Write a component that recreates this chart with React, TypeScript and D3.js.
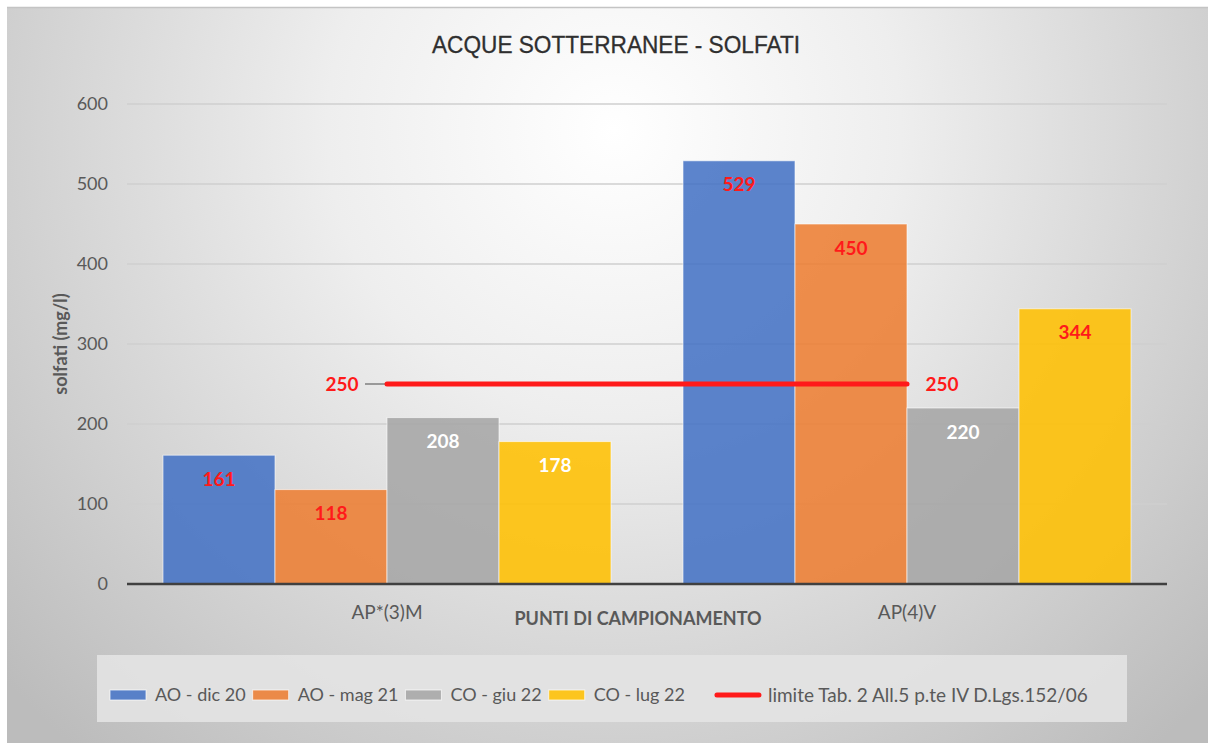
import React, { useEffect, useRef } from "react";
import * as d3 from "d3";

const categories = ["AP*(3)M", "AP(4)V"];
const seriesNames = ["AO - dic 20", "AO - mag 21", "CO - giu 22", "CO - lug 22"];
const valuesDic20 = [161, 529];
const valuesMag21 = [118, 450];
const valuesGiu22 = [208, 220];
const valuesLug22 = [178, 344];
const limitValue = 250;
const limitName = "limite Tab. 2 All.5 p.te IV D.Lgs.152/06";
const yTicks = [0, 100, 200, 300, 400, 500, 600];
const seriesColors = ["#4472C4", "#ED7D31", "#A5A5A5", "#FFC000"];
const labelColorsDic20 = ["#ff1a1a", "#ff1a1a"];
const labelColorsMag21 = ["#ff1a1a", "#ff1a1a"];
const labelColorsGiu22 = ["#ffffff", "#ffffff"];
const labelColorsLug22 = ["#ffffff", "#ff1a1a"];

const W = 1208;
const H = 745;
const FONT = "Lato, 'Open Sans', sans-serif";

export default function App() {
  const ref = useRef<SVGSVGElement>(null);

  useEffect(() => {
    const svg = d3.select(ref.current);
    svg.selectAll("*").remove();

    const seriesValues = [valuesDic20, valuesMag21, valuesGiu22, valuesLug22];
    const labelColors = [labelColorsDic20, labelColorsMag21, labelColorsGiu22, labelColorsLug22];

    const defs = svg.append("defs");
    const grad = defs
      .append("radialGradient")
      .attr("id", "bg")
      .attr("gradientUnits", "userSpaceOnUse")
      .attr("cx", 614)
      .attr("cy", 130)
      .attr("r", 820);
    grad.append("stop").attr("offset", 0).attr("stop-color", "#ffffff");
    grad.append("stop").attr("offset", 0.35).attr("stop-color", "#eeeeee");
    grad.append("stop").attr("offset", 1).attr("stop-color", "#bcbcbc");

    svg.append("rect").attr("x", 0).attr("y", 0).attr("width", W).attr("height", H).attr("fill", "#ffffff");
    svg.append("rect").attr("x", 7).attr("y", 7).attr("width", W - 7).attr("height", H - 9).attr("fill", "url(#bg)");
    svg.append("line").attr("x1", 7).attr("x2", W).attr("y1", 7.5).attr("y2", 7.5).attr("stroke", "#c4c4c4").attr("stroke-width", 1.5);

    const left = 127, right = 1167, top = 104, bottom = 584;
    const x = d3.scaleBand<string>().domain(categories).range([left, right]).paddingInner(0).paddingOuter(0);
    const xs = d3.scaleBand<string>().domain(seriesNames).range([0, x.bandwidth()]).paddingInner(0).paddingOuter(0.3214);
    const y = d3.scaleLinear().domain([0, 600]).range([bottom, top]);

    // title
    svg.append("text")
      .attr("x", 616).attr("y", 53)
      .attr("text-anchor", "middle")
      .attr("font-family", "'Liberation Sans Narrow', 'Liberation Sans', sans-serif")
      .attr("font-size", 23)
      .attr("fill", "#2f2f2f")
      .attr("stroke", "#2f2f2f").attr("stroke-width", 0.3)
      .attr("textLength", 368)
      .attr("lengthAdjust", "spacingAndGlyphs")
      .text("ACQUE SOTTERRANEE - SOLFATI");

    // gridlines
    svg.append("g").selectAll("line")
      .data(yTicks.filter((t) => t !== 0))
      .join("line")
      .attr("x1", left).attr("x2", right)
      .attr("y1", (d) => y(d)).attr("y2", (d) => y(d))
      .attr("stroke", "#cfcfcf").attr("stroke-width", 1.5);

    // y tick labels
    svg.append("g").selectAll("text")
      .data(yTicks)
      .join("text")
      .attr("x", 108).attr("y", (d) => y(d))
      .attr("dy", "0.35em")
      .attr("text-anchor", "end")
      .attr("font-family", FONT).attr("font-size", 18)
      .attr("fill", "#595959")
      .text((d) => d);

    // bars
    seriesNames.forEach((s, si) => {
      const g = svg.append("g");
      g.selectAll("rect")
        .data(categories.map((c, ci) => ({ c, v: seriesValues[si][ci] })))
        .join("rect")
        .attr("x", (d) => (x(d.c) as number) + (xs(s) as number))
        .attr("y", (d) => y(d.v))
        .attr("width", xs.bandwidth())
        .attr("height", (d) => y(0) - y(d.v))
        .attr("fill", seriesColors[si])
        .attr("fill-opacity", 0.87)
        .attr("stroke", "#ffffff")
        .attr("stroke-opacity", 0.6)
        .attr("stroke-width", 1);
    });

    // axis line
    svg.append("line").attr("x1", left).attr("x2", right).attr("y1", y(0)).attr("y2", y(0))
      .attr("stroke", "#404040").attr("stroke-width", 2.5);

    // data labels
    seriesNames.forEach((s, si) => {
      svg.append("g").selectAll("text")
        .data(categories.map((c, ci) => ({ c, ci, v: seriesValues[si][ci] })))
        .join("text")
        .attr("x", (d) => (x(d.c) as number) + (xs(s) as number) + xs.bandwidth() / 2)
        .attr("y", (d) => y(d.v) + 24)
        .attr("dy", "0.35em")
        .attr("text-anchor", "middle")
        .attr("font-family", FONT).attr("font-size", 19).attr("font-weight", "bold")
        .attr("fill", (d) => labelColors[si][d.ci])
        .text((d) => d.v);
    });

    // limit line
    const cx = categories.map((c) => (x(c) as number) + x.bandwidth() / 2);
    const ly = y(limitValue);
    svg.append("line").attr("x1", cx[0] - 22).attr("x2", cx[0]).attr("y1", ly).attr("y2", ly)
      .attr("stroke", "#7f7f7f").attr("stroke-width", 1.5);
    svg.append("line").attr("x1", cx[0]).attr("x2", cx[1]).attr("y1", ly).attr("y2", ly)
      .attr("stroke", "#ff1a1a").attr("stroke-width", 5).attr("stroke-linecap", "round");
    svg.append("text").attr("x", cx[0] - 45).attr("y", ly).attr("dy", "0.35em")
      .attr("text-anchor", "middle").attr("font-family", FONT).attr("font-size", 19).attr("font-weight", "bold")
      .attr("fill", "#ff1a1a").text(limitValue);
    svg.append("text").attr("x", cx[1] + 35).attr("y", ly).attr("dy", "0.35em")
      .attr("text-anchor", "middle").attr("font-family", FONT).attr("font-size", 19).attr("font-weight", "bold")
      .attr("fill", "#ff1a1a").text(limitValue);

    // category labels
    svg.append("g").selectAll("text")
      .data(categories)
      .join("text")
      .attr("x", (d) => (x(d) as number) + x.bandwidth() / 2)
      .attr("y", 612).attr("dy", "0.35em")
      .attr("text-anchor", "middle")
      .attr("font-family", FONT).attr("font-size", 19).attr("fill", "#595959")
      .text((d) => d);

    // axis titles
    svg.append("text").attr("x", 638).attr("y", 619).attr("dy", "0.35em")
      .attr("text-anchor", "middle").attr("font-family", FONT).attr("font-size", 18).attr("font-weight", "bold")
      .attr("fill", "#595959").text("PUNTI DI CAMPIONAMENTO");
    svg.append("text")
      .attr("transform", `translate(61,${(top + bottom) / 2}) rotate(-90)`)
      .attr("dy", "0.35em")
      .attr("text-anchor", "middle").attr("font-family", FONT).attr("font-size", 18).attr("font-weight", "bold")
      .attr("fill", "#595959").text("solfati (mg/l)");

    // legend
    svg.append("rect").attr("x", 97).attr("y", 655).attr("width", 1030).attr("height", 67)
      .attr("fill", "#e3e3e3").attr("fill-opacity", 0.9);
    const legendItems = [
      ...seriesNames.map((n, i) => ({ name: n, color: seriesColors[i], line: false })),
      { name: limitName, color: "#ff1a1a", line: true },
    ];
    const lg = svg.append("g");
    let cursor = 110;
    const ly2 = 695;
    legendItems.forEach((it) => {
      const sw = it.line ? 48 : 36;
      if (it.line) {
        cursor += 22;
        lg.append("line").attr("x1", cursor + 3).attr("x2", cursor + sw - 3).attr("y1", ly2).attr("y2", ly2)
          .attr("stroke", it.color).attr("stroke-width", 5).attr("stroke-linecap", "round");
      } else {
        lg.append("rect").attr("x", cursor).attr("y", ly2 - 5).attr("width", sw).attr("height", 10)
          .attr("fill", it.color).attr("fill-opacity", 0.87).attr("stroke", "#ffffff").attr("stroke-opacity", 0.7);
      }
      cursor += sw + (it.line ? 6 : 9);
      const t = lg.append("text").attr("x", cursor).attr("y", ly2).attr("dy", "0.35em")
        .attr("font-family", FONT).attr("font-size", it.line ? 19 : 18).attr("fill", "#595959").text(it.name);
      const w = (t.node() as SVGTextElement).getComputedTextLength();
      cursor += w + 7;
    });
  }, []);

  return (
    <svg ref={ref} width={W} height={H} style={{ position: "absolute", left: 0, top: 0, display: "block" }} />
  );
}
